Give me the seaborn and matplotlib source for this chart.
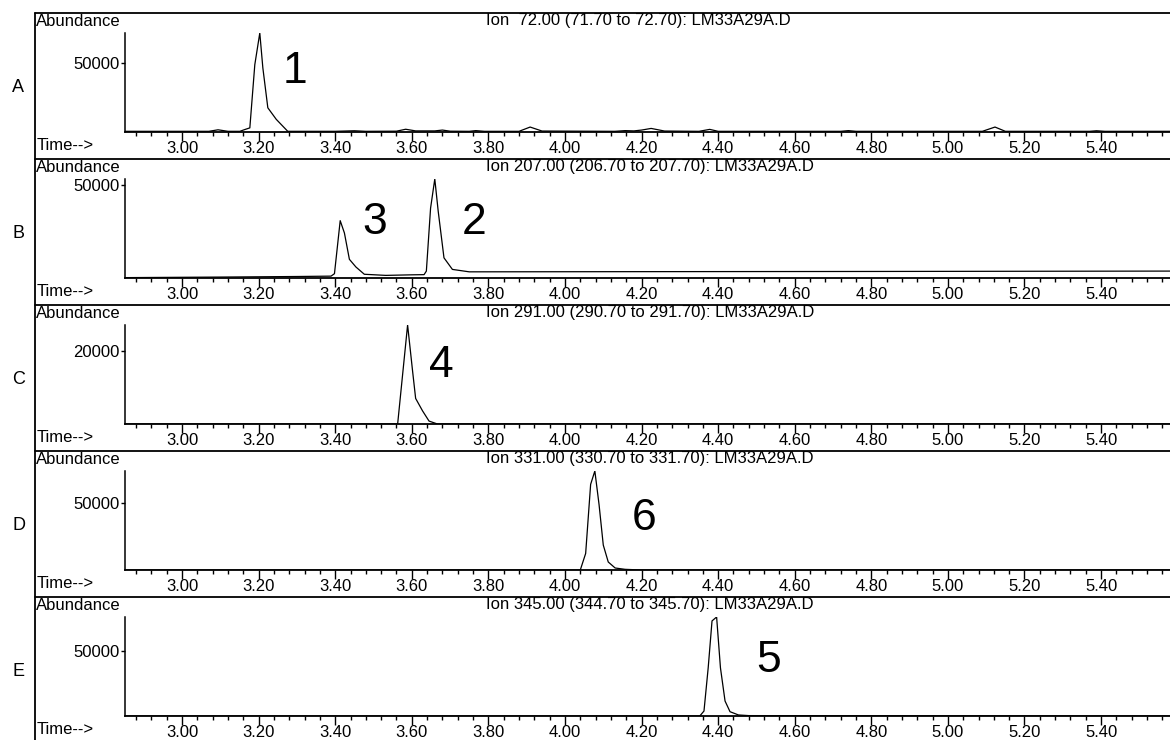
import numpy as np
import pandas as pd
import matplotlib.pyplot as plt
from matplotlib.lines import Line2D
from matplotlib.ticker import MultipleLocator
import seaborn as sns

sns.set_style("ticks")
plt.rcParams['font.family'] = ['Liberation Sans', 'DejaVu Sans']
for key in ['text.color', 'axes.labelcolor', 'xtick.color', 'ytick.color', 'axes.edgecolor']:
    plt.rcParams[key] = 'black'

# chromatogram traces (time in min, abundance)
a_time = [2.85, 3.07, 3.094, 3.12, 3.151, 3.164, 3.177, 3.19, 3.203, 3.211, 3.224, 3.246, 3.276,
          3.40, 3.45, 3.48, 3.56, 3.584, 3.61, 3.66, 3.68, 3.70, 3.75, 3.767, 3.79, 3.88, 3.909,
          3.94, 4.13, 4.157, 4.18, 4.20, 4.225, 4.26, 4.35, 4.378, 4.40, 4.72, 4.74, 4.76, 5.09,
          5.123, 5.15, 5.37, 5.388, 5.41, 5.58]
a_abund = [500, 500, 1600, 500, 500, 1800, 3000, 49000, 72000, 46600, 17600, 9200, 500,
           500, 900, 500, 600, 2000, 800, 800, 1400, 600, 500, 1000, 500, 500, 3600,
           700, 500, 1000, 800, 1400, 2600, 700, 500, 1900, 500, 500, 1000, 500, 500,
           3600, 500, 500, 900, 500, 500]

b_time = [2.85, 3.10, 3.30, 3.389, 3.398, 3.413, 3.424, 3.437, 3.454, 3.476, 3.532, 3.60, 3.632,
          3.638, 3.649, 3.660, 3.669, 3.684, 3.706, 3.75, 4.20, 4.80, 5.58]
b_abund = [200, 500, 800, 1000, 2300, 30700, 24100, 10000, 5900, 2000, 1400, 1700, 1800,
           3700, 37400, 53000, 35600, 10800, 4600, 3300, 3400, 3500, 3700]

c_time = [2.85, 3.40, 3.563, 3.589, 3.602, 3.61, 3.628, 3.645, 3.667, 5.58]
c_abund = [0, 0, 0, 27100, 14500, 7000, 3600, 800, 0, 0]

d_time = [2.85, 4.04, 4.054, 4.067, 4.078, 4.089, 4.10, 4.113, 4.131, 4.157, 4.20, 5.58]
d_abund = [0, 0, 12400, 64200, 74200, 49000, 18700, 6000, 1500, 500, 0, 0]

e_time = [2.85, 4.352, 4.363, 4.374, 4.384, 4.396, 4.406, 4.418, 4.431, 4.453, 4.48, 5.58]
e_abund = [0, 0, 3800, 37000, 73000, 76000, 37000, 11500, 3300, 800, 300, 0]

row_labels = ["A", "B", "C", "D", "E"]
ions = ["Ion  72.00 (71.70 to 72.70): LM33A29A.D",
        "Ion 207.00 (206.70 to 207.70): LM33A29A.D",
        "Ion 291.00 (290.70 to 291.70): LM33A29A.D",
        "Ion 331.00 (330.70 to 331.70): LM33A29A.D",
        "Ion 345.00 (344.70 to 345.70): LM33A29A.D"]
ytick_vals = [50000, 50000, 20000, 50000, 50000]
ytops = [72000, 53000, 27100, 74200, 76000]
# peak numbers: (label, time, abundance)
peak_labels = [[("1", 3.295, 44200)],
               [("3", 3.504, 29600), ("2", 3.762, 29600)],
               [("4", 3.676, 15900)],
               [("6", 4.206, 38600)],
               [("5", 4.533, 42300)]]
traces = [(a_time, a_abund), (b_time, b_abund), (c_time, c_abund),
          (d_time, d_abund), (e_time, e_abund)]

W, H = 1170, 740
fig = plt.figure(figsize=(W / 100, H / 100), dpi=100)

def fx(x):
    return x / W

def fy(y):
    return 1 - y / H

# outer frame: left line
fig.add_artist(Line2D([fx(35), fx(35)], [fy(13), fy(740)], color='black', lw=1.3,
                      transform=fig.transFigure))

for k in range(5):
    top = 13 + 146 * k
    base = 132 + 146 * k
    fig.add_artist(Line2D([fx(35), fx(1170)], [fy(top), fy(top)], color='black', lw=1.3,
                          transform=fig.transFigure))
    ax = fig.add_axes([fx(125), fy(base), fx(1170) - fx(125), 99 / H])
    t, v = traces[k]
    df = pd.DataFrame({"time": t, "abundance": v})
    sns.lineplot(data=df, x="time", y="abundance", ax=ax, color='black', lw=0.9,
                 sort=False, estimator=None)
    ax.set_xlim(2.851, 5.58)
    ax.set_ylim(0, ytops[k])
    ax.set_xlabel("")
    ax.set_ylabel("")
    ax.patch.set_alpha(0)
    for s in ["top", "right"]:
        ax.spines[s].set_visible(False)
    ax.spines["left"].set_linewidth(1.1)
    ax.spines["bottom"].set_linewidth(1.3)
    ax.xaxis.set_major_locator(MultipleLocator(0.2))
    ax.xaxis.set_minor_locator(MultipleLocator(0.04))
    ax.xaxis.set_major_formatter(lambda x, p: f"{x:.2f}")
    ax.tick_params(axis='x', which='major', direction='out', length=6.5, width=1,
                   pad=0, labelsize=12)
    ax.tick_params(axis='x', which='minor', direction='out', length=3, width=1)
    ax.set_yticks([ytick_vals[k]])
    ax.set_yticklabels([str(ytick_vals[k])])
    ax.tick_params(axis='y', direction='out', length=3, width=1, pad=1, labelsize=12)
    for lab, pt, pv in peak_labels[k]:
        ax.text(pt, pv, lab, fontsize=32, ha='center', va='center')

    fig.text(fx(12), fy(87 + 146 * k), row_labels[k], fontsize=13, ha='left', va='center')
    fig.text(fx(36), fy(top + 9), "Abundance", fontsize=12, ha='left', va='center')
    fig.text(fx(37), fy(base + 14), "Time-->", fontsize=12, ha='left', va='center')
    fig.text(fx(486), fy(top + 8), ions[k], fontsize=12, ha='left', va='center')

fig.savefig("out.png", dpi=100)
